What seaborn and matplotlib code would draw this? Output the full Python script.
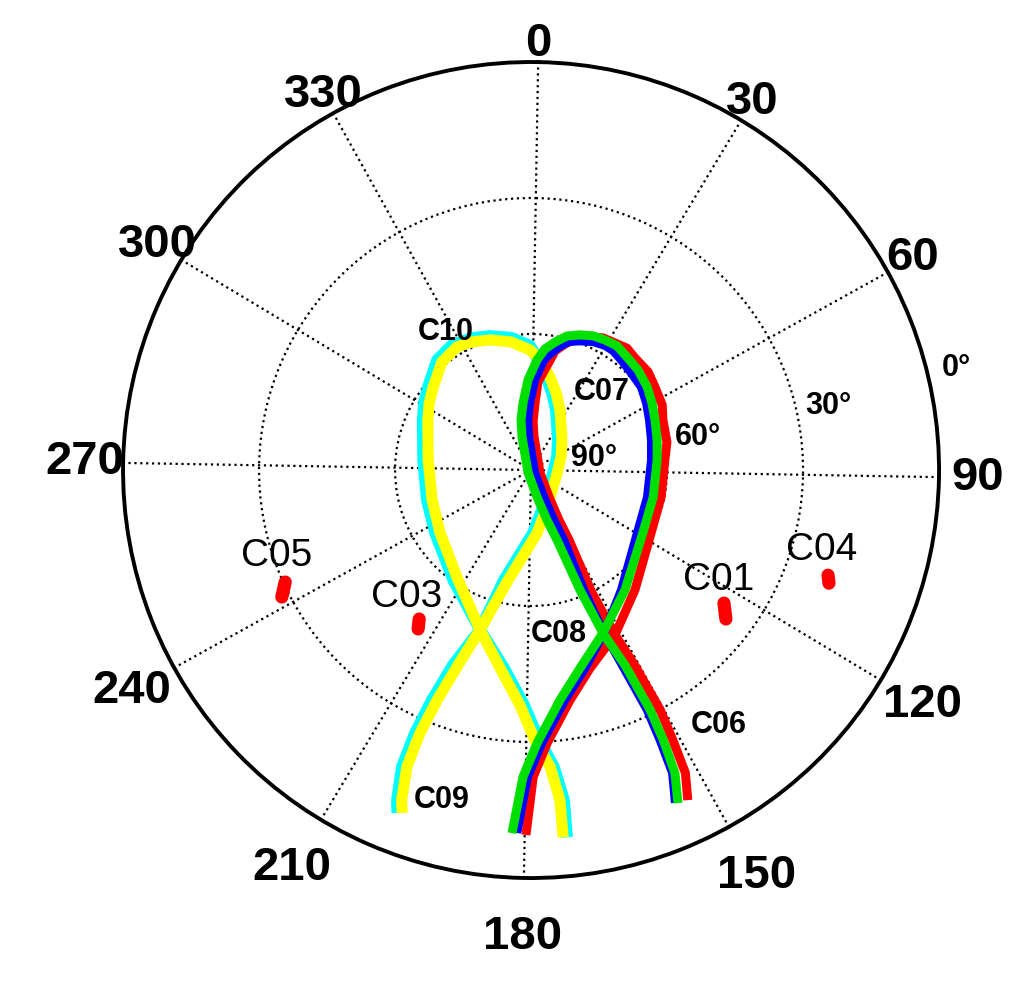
import numpy as np
import pandas as pd
import matplotlib
matplotlib.use("Agg")
import matplotlib.pyplot as plt
import seaborn as sns

# BeiDou skyplot, azimuth in deg (clockwise from north), elevation in deg
# IGSO tracks (figure-8 ground tracks)
c06_az = [179.8, 178.6, 175.6, 169.4, 162.4, 152.0, 138.1, 116.7, 100.7, 84.7, 77.4, 68.3, 62.6, 55.2, 49.0,
          41.9, 37.2, 31.6, 27.6, 22.2, 18.2, 14.1, 10.4, 8.5, 3.5, 2.4, 1.4, 4.2, 107.4, 145.3,
          149.8, 150.5, 152.6, 152.0, 151.0, 150.7, 151.3, 152.0, 153.6]
c06_el = [9.5, 22.3, 29.7, 38.5, 44.4, 49.2, 55.0, 60.1, 60.7, 60.4, 59.4, 58.9, 57.7, 57.1, 56.3,
          56.3, 55.8, 56.5, 56.8, 58.1, 59.2, 61.2, 63.2, 65.8, 70.5, 75.2, 79.4, 82.7, 87.9, 82.8,
          77.4, 72.4, 60.2, 49.2, 41.0, 29.9, 22.7, 15.0, 9.4]

c07_az = [182.0, 180.5, 177.7, 171.8, 165.1, 155.2, 140.9, 118.4, 101.5, 84.5, 75.6, 67.0, 60.0, 53.4, 45.9,
          39.3, 33.7, 28.7, 23.8, 18.9, 14.0, 9.6, 5.6, 2.1, 357.1, 352.2, 347.7, 343.7, 224.0, 166.5,
          161.3, 158.6, 156.8, 155.2, 153.3, 152.6, 152.9, 153.6, 155.2]
c07_el = [9.8, 22.3, 29.8, 38.9, 45.0, 50.7, 56.4, 61.7, 62.4, 62.1, 61.4, 60.5, 59.5, 58.5, 57.7,
          57.3, 56.7, 57.0, 57.4, 58.3, 59.4, 61.3, 63.1, 65.7, 70.1, 75.1, 78.7, 82.5, 89.1, 83.9,
          78.4, 73.5, 61.4, 50.7, 42.2, 30.9, 23.7, 16.0, 9.7]

c08_az = [181.2, 179.6, 176.7, 170.6, 163.7, 154.9, 142.1, 119.7, 102.1, 84.2, 75.0, 66.0, 58.8, 52.0, 45.5,
          38.9, 33.6, 29.8, 24.8, 19.8, 15.5, 11.8, 8.3, 5.7, 1.5, 358.1, 355.6, 355.5, 125.9, 153.3,
          154.3, 153.8, 155.2, 154.9, 154.0, 153.2, 153.5, 154.0, 155.6]
c08_el = [9.9, 22.3, 29.7, 38.7, 44.7, 50.6, 56.9, 62.8, 63.7, 63.4, 62.7, 61.7, 60.6, 59.6, 59.3,
          58.7, 58.1, 58.1, 58.6, 59.6, 60.5, 62.2, 64.1, 65.6, 70.1, 75.2, 78.9, 82.7, 88.9, 83.4,
          77.9, 72.9, 61.1, 50.6, 42.5, 31.2, 24.0, 16.3, 10.0]

c09_az = [200.3, 201.1, 202.5, 202.8, 202.3, 200.8, 196.7, 192.8, 177.2, 161.0, 96.8, 62.4, 41.0, 21.6, 14.3,
          8.2, 2.1, 358.5, 350.4, 342.0, 334.9, 326.7, 318.5, 307.9, 300.9, 293.8, 274.3, 252.9, 235.7, 214.3,
          196.7, 186.8, 180.7, 177.3, 174.6, 173.3, 173.4]
c09_el = [8.8, 11.4, 18.6, 26.6, 34.8, 43.7, 53.0, 65.0, 76.1, 81.4, 85.1, 83.6, 81.1, 75.7, 72.4,
          69.2, 65.3, 62.6, 60.5, 59.1, 58.1, 57.4, 58.1, 60.8, 62.2, 63.7, 66.1, 66.1, 64.7, 60.3,
          53.0, 45.9, 38.1, 30.4, 24.3, 16.8, 8.6]

c10_az = [199.6, 200.4, 201.7, 201.9, 201.2, 199.5, 196.7, 190.8, 173.6, 155.6, 95.6, 65.6, 44.9, 24.8, 17.0,
          10.5, 4.2, 358.5, 350.1, 341.5, 334.3, 328.0, 319.5, 309.3, 302.3, 294.9, 274.5, 252.1, 234.3, 212.6,
          196.7, 187.9, 181.7, 178.2, 175.3, 174.0, 174.0]
c10_el = [9.2, 11.8, 19.0, 27.0, 35.2, 44.1, 53.0, 65.2, 76.0, 81.1, 84.2, 82.8, 80.5, 75.3, 72.1,
          69.1, 65.8, 63.5, 61.4, 59.9, 58.9, 58.3, 59.1, 61.7, 63.1, 64.7, 67.2, 67.2, 65.6, 60.9,
          53.0, 45.8, 38.1, 30.4, 24.4, 16.9, 8.7]

# GEO satellites (almost fixed)
c01_az = [123.6, 126.4]
c01_el = [38.3, 35.9]
c03_az = [215.9, 214.4]
c03_el = [48.9, 47.0]
c04_az = [108.5, 109.8]
c04_el = [20.5, 19.7]
c05_az = [244.5, 242.0]
c05_el = [30.4, 28.3]

az_ticks = [0, 30, 60, 90, 120, 150, 180, 210, 240, 270, 300, 330]

sns.set_theme(style="white")
plt.rcParams['font.family'] = ['Liberation Sans', 'DejaVu Sans']
plt.rcParams['text.color'] = 'black'

def make_df(name, az, el):
    d = pd.DataFrame({'sat': name, 'az': az, 'el': el})
    d['theta'] = np.deg2rad(d['az'])
    d['zen'] = 90 - d['el']
    return d

tracks = pd.concat([make_df('C09', c09_az, c09_el), make_df('C10', c10_az, c10_el),
                    make_df('C06', c06_az, c06_el), make_df('C08', c08_az, c08_el),
                    make_df('C07', c07_az, c07_el)])
geo = pd.concat([make_df('C01', c01_az, c01_el), make_df('C03', c03_az, c03_el),
                 make_df('C04', c04_az, c04_el), make_df('C05', c05_az, c05_el)])

fig = plt.figure(figsize=(10.24, 9.86), dpi=100)
ax = fig.add_axes([0.1201, 0.1095, 0.797, 0.8276], projection='polar')
ax.set_theta_zero_location('N', offset=-1)
ax.set_theta_direction(-1)

# draw order: cyan, yellow, red, blue, green
styles = {'C09': ('#00ffff', 8.5), 'C10': ('#ffff00', 8.0), 'C06': ('#ff0000', 6.5),
          'C08': ('#0000ff', 6.0), 'C07': ('#00e000', 6.5)}
for s in ['C09', 'C10', 'C06', 'C08', 'C07']:
    col, lw = styles[s]
    sns.lineplot(data=tracks[tracks.sat == s], x='theta', y='zen', sort=False, estimator=None,
                 color=col, linewidth=lw, solid_capstyle='butt', solid_joinstyle='round', ax=ax)

for s in ['C01', 'C03', 'C04', 'C05']:
    sns.lineplot(data=geo[geo.sat == s], x='theta', y='zen', sort=False, estimator=None,
                 color='#ff0000', linewidth=9.5, solid_capstyle='round', ax=ax)

ax.set_ylim(0, 90)
ax.set_thetagrids(az_ticks, labels=[''] * len(az_ticks))
ax.set_rgrids([30, 60], labels=['', ''])
ax.grid(True, color='black', linestyle=':', linewidth=1.6)
ax.spines['polar'].set_linewidth(2.8)
ax.spines['polar'].set_color('black')
ax.set_xlabel('')
ax.set_ylabel('')

# azimuth labels outside the circle
for a in az_ticks:
    r_lab = 94 + 9 * (1 - np.cos(np.deg2rad(a))) / 2
    ax.text(np.deg2rad(a), r_lab, str(a), fontsize=34, fontweight='bold',
            color='black', ha='center', va='center')

# elevation ring labels
ax.text(np.deg2rad(78.2), 14.1, '90°', fontsize=22, fontweight='bold', ha='center', va='center')
ax.text(np.deg2rad(77.8), 37.5, '60°', fontsize=22, fontweight='bold', ha='center', va='center')
ax.text(np.deg2rad(76.8), 67.0, '30°', fontsize=22, fontweight='bold', ha='center', va='center')
ax.text(np.deg2rad(75.5), 96.4, '0°', fontsize=22, fontweight='bold', ha='center', va='center')

# satellite labels
ax.text(np.deg2rad(250.3), 59.2, 'C05', fontsize=28, ha='center', va='center')
ax.text(np.deg2rad(223.3), 39.2, 'C03', fontsize=28, ha='center', va='center')
ax.text(np.deg2rad(119.5), 47.9, 'C01', fontsize=28, ha='center', va='center')
ax.text(np.deg2rad(104.4), 66.4, 'C04', fontsize=28, ha='center', va='center')
ax.text(np.deg2rad(327.4), 35.8, 'C10', fontsize=22, fontweight='bold', ha='center', va='center')
ax.text(np.deg2rad(41.3), 23.3, 'C07', fontsize=22, fontweight='bold', ha='center', va='center')
ax.text(np.deg2rad(169.3), 36.7, 'C08', fontsize=22, fontweight='bold', ha='center', va='center')
ax.text(np.deg2rad(142.6), 69.9, 'C06', fontsize=22, fontweight='bold', ha='center', va='center')
ax.text(np.deg2rad(194.1), 75.4, 'C09', fontsize=22, fontweight='bold', ha='center', va='center')

fig.savefig('out.png', dpi=100, facecolor='white')
